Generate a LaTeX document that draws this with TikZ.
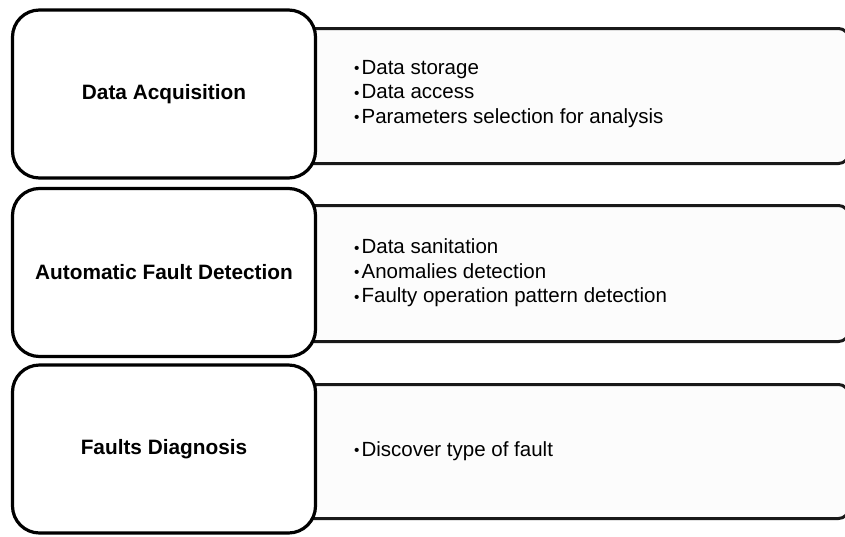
\documentclass[tikz,border=0pt]{standalone}
\usepackage{fontspec}
\setmainfont{Liberation Sans}
\begin{document}
\begin{tikzpicture}[x=1pt, y=-1pt,
  stagebox/.style={draw=black, line width=3.2pt, fill=white, rounded corners=27pt,
    minimum width=303pt, minimum height=168pt, inner sep=0pt,
    font=\fontsize{20.8}{24.5}\selectfont\bfseries},
  detailbox/.style={draw=black!90, line width=3pt, fill=black!1, rounded corners=10pt,
    anchor=north west, minimum width=547pt, inner sep=0pt},
  items/.style={anchor=west, align=left, inner sep=0pt,
    font=\fontsize{20.5}{24.5}\selectfont}
]
\useasboundingbox (0,0) rectangle (845,536);
\clip (0,0) rectangle (845,536);

% detail panels behind the stage boxes
\node[detailbox, minimum height=135pt] (d1) at (300,27) {};
\node[detailbox, minimum height=136pt] (d2) at (300,204) {};
\node[detailbox, minimum height=134pt] (d3) at (300,383) {};

% stage boxes
\node[stagebox] (s1) at (164,94) {Data Acquisition};
\node[stagebox] (s2) at (164,272.5) {Automatic Fault Detection};
\node[stagebox] (s3) at (164,449) {Faults Diagnosis};

% bullet lists
\newcommand{\itm}{\raisebox{0.5pt}{\scalebox{0.75}{•}}\kern2pt}
\node[items] (t1) at (354,94) {\itm Data storage\\\itm Data access\\\itm Parameters selection for analysis};
\node[items] (t2) at (354,273) {\itm Data sanitation\\\itm Anomalies detection\\\itm Faulty operation pattern detection};
\node[items] (t3) at (354,451) {\itm Discover type of fault};
\end{tikzpicture}
\end{document}
